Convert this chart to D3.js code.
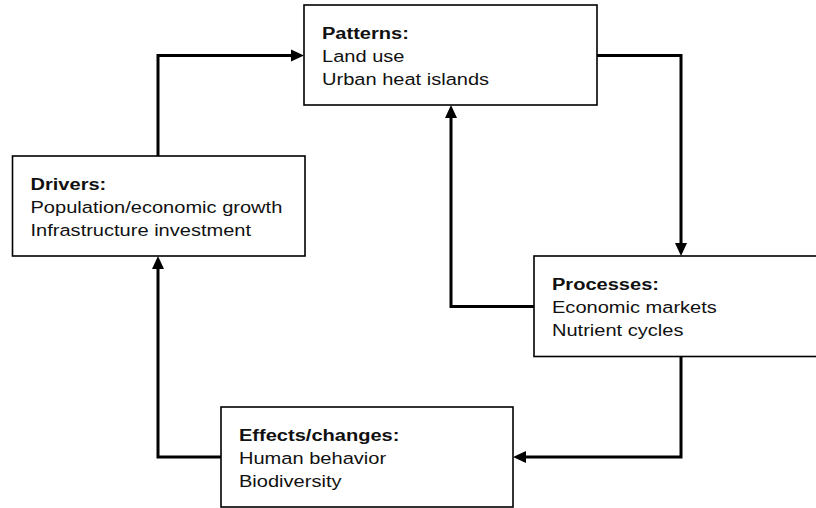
<!doctype html>
<html>
<head>
<script src="https://cdn.jsdelivr.net/npm/d3@7"></script>
<style>
  body { margin: 0; background: #fff; }
  svg { display: block; }
</style>
</head>
<body>
<svg width="816" height="508"></svg>
<script>
// box titles and their item lines
const titles = ["Patterns:", "Drivers:", "Processes:", "Effects/changes:"];
const items = [
  ["Land use", "Urban heat islands"],
  ["Population/economic growth", "Infrastructure investment"],
  ["Economic markets", "Nutrient cycles"],
  ["Human behavior", "Biodiversity"]
];
// links between boxes (index into titles)
const links = [[1, 0], [0, 2], [2, 0], [2, 3], [3, 1]];

const svg = d3.select("svg");

// layout (pixel space)
const boxes = [
  {x: 304, y: 5, w: 293, h: 100},
  {x: 12.5, y: 156, w: 292.5, h: 100},
  {x: 534, y: 256, w: 300, h: 100.5},
  {x: 221, y: 407, w: 292, h: 100}
];

// connector routes: side of source, corner points, side of target
const laneX = [158, 681, 451];
const laneY = [55.5, 306.5, 457];
const routes = [
  [[laneX[0], boxes[1].y], [laneX[0], laneY[0]], [boxes[0].x, laneY[0]]],
  [[boxes[0].x + boxes[0].w, laneY[0]], [laneX[1], laneY[0]], [laneX[1], boxes[2].y]],
  [[boxes[2].x, laneY[1]], [laneX[2], laneY[1]], [laneX[2], boxes[0].y + boxes[0].h]],
  [[laneX[1], boxes[2].y + boxes[2].h], [laneX[1], laneY[2]], [boxes[3].x + boxes[3].w, laneY[2]]],
  [[boxes[3].x, laneY[2]], [laneX[0], laneY[2]], [laneX[0], boxes[1].y + boxes[1].h]]
];

const headLen = 13, headW = 6;
const line = d3.line();

routes.forEach(pts => {
  const n = pts.length;
  const [tx, ty] = pts[n - 1], [px, py] = pts[n - 2];
  const L = Math.hypot(tx - px, ty - py);
  const ux = (tx - px) / L, uy = (ty - py) / L;
  const bx = tx - ux * (headLen - 1), by = ty - uy * (headLen - 1);
  const shaft = pts.slice(0, n - 1).concat([[bx, by]]);
  svg.append("path")
    .attr("d", line(shaft))
    .attr("fill", "none")
    .attr("stroke", "#000")
    .attr("stroke-width", 3)
    .attr("stroke-linejoin", "miter");
  pts.head = [[tx, ty],
    [tx - ux * headLen - uy * headW, ty - uy * headLen + ux * headW],
    [tx - ux * headLen + uy * headW, ty - uy * headLen - ux * headW]];
});

const g = svg.selectAll("g.box")
  .data(titles)
  .enter()
  .append("g")
    .attr("class", "box");

g.append("rect")
  .attr("x", (d, i) => boxes[i].x)
  .attr("y", (d, i) => boxes[i].y)
  .attr("width", (d, i) => boxes[i].w)
  .attr("height", (d, i) => boxes[i].h)
  .attr("fill", "#fff")
  .attr("stroke", "#000")
  .attr("stroke-width", 1.6);

const txt = g.append("g")
  .attr("transform", (d, i) => "translate(" + (boxes[i].x + 18) + "," + (boxes[i].y + 34) + ") scale(1.18,1)")
  .style("font-family", "Arial, 'Liberation Sans', sans-serif")
  .style("font-size", "17px")
  .attr("fill", "#111");

txt.append("text")
  .attr("font-weight", "bold")
  .text(d => d);

txt.each(function(d, i) {
  d3.select(this).selectAll("text.item")
    .data(items[i])
    .enter()
    .append("text")
      .attr("class", "item")
      .attr("y", (e, j) => (j + 1) * 23)
      .text(e => e);
});

routes.forEach(pts => {
  svg.append("path")
    .attr("d", line(pts.head) + "Z")
    .attr("fill", "#000");
});
</script>
</body>
</html>
